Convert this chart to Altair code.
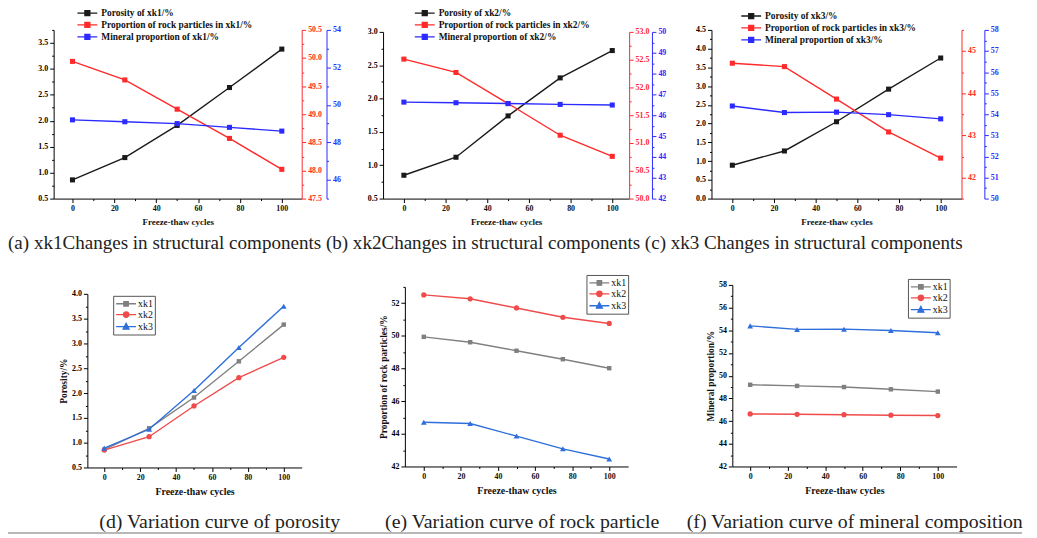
import altair as alt
import pandas as pd

# ---------------- data ----------------
cycles = [0, 25, 50, 75, 100]
samples = ["xk1", "xk2", "xk3"]

porosity_xk1 = [0.86, 1.29, 1.91, 2.64, 3.38]
porosity_xk2 = [0.85, 1.12, 1.74, 2.31, 2.72]
porosity_xk3 = [0.89, 1.27, 2.05, 2.92, 3.75]

rock_xk1 = [49.94, 49.61, 49.09, 48.57, 48.02]
rock_xk2 = [52.51, 52.27, 51.71, 51.14, 50.76]
rock_xk3 = [44.71, 44.63, 43.86, 43.08, 42.46]

mineral_xk1 = [49.20, 49.10, 49.00, 48.80, 48.60]
mineral_xk2 = [46.63, 46.60, 46.56, 46.52, 46.49]
mineral_xk3 = [54.39, 54.08, 54.10, 53.98, 53.78]

top_captions = "(a) xk1Changes in structural components (b) xk2Changes in structural components (c) xk3 Changes in structural components"
bottom_captions = ["(d) Variation curve of porosity",
                   "(e) Variation curve of rock particle",
                   "(f) Variation curve of mineral composition"]
bottom_titles = ["Porosity/%", "Proportion of rock particles/%", "Mineral proportion/%"]
x_title = "Freeze-thaw cycles"

values = {
    ("xk1", "porosity"): porosity_xk1, ("xk2", "porosity"): porosity_xk2, ("xk3", "porosity"): porosity_xk3,
    ("xk1", "rock"): rock_xk1, ("xk2", "rock"): rock_xk2, ("xk3", "rock"): rock_xk3,
    ("xk1", "mineral"): mineral_xk1, ("xk2", "mineral"): mineral_xk2, ("xk3", "mineral"): mineral_xk3,
}
rows = []
for (s, m), vals in values.items():
    for c, v in zip(cycles, vals):
        rows.append({"sample": s, "measure": m, "cycles": c, "value": v})
df = pd.DataFrame(rows)
base = alt.Chart(df)

# ---------------- layout (page pixel coords) ----------------
M = 8
W, H = 1037 - M, 538 - M
FONT = "Liberation Serif"


def px(v):
    return v - M


BLACK, RED, BLUE = "#1a1a1a", "#ff2a2a", "#2b2bff"
G_GRAY, G_RED, G_BLUE = "#808080", "#ef4b4b", "#2f6fdc"


def frange(a, b, step):
    out, v = [], a
    while v <= b + 1e-9:
        out.append(round(v, 4))
        v += step
    return out


def xscale(p):
    return alt.Scale(domain=p["xdom"], range=[px(p["x0"]), px(p["x1"])], nice=False, zero=False)


def yscale(dom, p):
    return alt.Scale(domain=dom, range=[px(p["yb"]), px(p["yt"])], nice=False, zero=False)


def x_axis(p, minor=False, tsize=9):
    off = px(p["yb"]) - H
    if minor:
        return alt.Axis(orient="bottom", offset=off, values=[10, 30, 50, 70, 90], labels=False,
                        domain=False, tickSize=2, title=None, grid=False)
    return alt.Axis(orient="bottom", offset=off, values=[0, 20, 40, 60, 80, 100], format="d",
                    title=x_title, titleFontSize=tsize, titlePadding=5, tickSize=4, grid=False)


def y_axis(orient, xpos, vals, fmt, color="#000", minor=False, title=None):
    off = -px(xpos) if orient == "left" else px(xpos) - W
    if minor:
        return alt.Axis(orient=orient, offset=off, values=vals, labels=False, domain=False,
                        tickSize=2, tickColor=color, title=None, grid=False)
    kw = dict(orient=orient, offset=off, values=vals, format=fmt, tickSize=4, grid=False,
              domainColor=color, tickColor=color, labelColor=color)
    if title:
        kw.update(title=title, titleFontSize=9.5, titlePadding=3)
    else:
        kw.update(title=None)
    return alt.Axis(**kw)


def line_layer(sample, measure, color, shape, msize, xs, ys, xaxis, yaxis, width=1.4):
    return base.transform_filter(
        f"datum.sample == '{sample}' && datum.measure == '{measure}'"
    ).mark_line(color=color, strokeWidth=width,
                point=alt.OverlayMarkDef(shape=shape, filled=True, color=color, size=msize, opacity=1)
                ).encode(x=alt.X("cycles:Q", scale=xs, axis=xaxis),
                         y=alt.Y("value:Q", scale=ys, axis=yaxis))


def axis_layer(xs, ys, yaxis):
    return base.transform_filter("false").mark_line().encode(
        x=alt.X("cycles:Q", scale=xs, axis=None),
        y=alt.Y("value:Q", scale=ys, axis=yaxis))


def legend_layer(labels, colors, shapes, lx, ly, font_size, bold, row_pad, label_off, boxed):
    dfl = pd.DataFrame({"lab": labels})
    csc = alt.Scale(domain=labels, range=colors)
    ssc = alt.Scale(domain=labels, range=shapes)
    kw = dict(orient="none", legendX=px(lx), legendY=px(ly), title=None,
              labelFont=FONT, labelFontSize=font_size,
              labelFontWeight="bold" if bold else "normal", labelColor="#111",
              symbolSize=100, labelOffset=label_off, rowPadding=row_pad, symbolStrokeWidth=1.3)
    if boxed:
        kw.update(strokeColor="#555", padding=2)
    else:
        kw.update(padding=0)
    leg = alt.Legend(**kw)
    return alt.Chart(dfl).transform_filter("false").mark_point(filled=True, opacity=1, strokeWidth=1.3).encode(
        color=alt.Color("lab:N", scale=csc, legend=leg),
        stroke=alt.Stroke("lab:N", scale=csc, legend=leg),
        shape=alt.Shape("lab:N", scale=ssc, legend=leg),
    )


# symbol paths: unit = 5 px (symbolSize 100); line runs from -1 to 3 units, marker at 1
SQ_TOP = "M-1,0L3,0M0.5,-0.5L1.5,-0.5L1.5,0.5L0.5,0.5Z"
SQ_LINE = "M-1,0L3,0M0.55,-0.45L1.45,-0.45L1.45,0.45L0.55,0.45Z"
CI_LINE = "M-1,0L3,0M1.55,0A0.55,0.55 0 1,1 0.45,0A0.55,0.55 0 1,1 1.55,0Z"
TR_LINE = "M-1,0L3,0M1,-0.65L1.6,0.5L0.4,0.5Z"

# top panels geometry
top_panels = [
    dict(sample="xk1", x0=54, x1=304, xdom=[-9, 109.5], yt=28, yb=198,
         left=[0.5, 3.75], lmaj=frange(0.5, 3.5, 0.5), lmin=frange(0.75, 3.75, 0.5), lfmt=".1f",
         red=[47.5, 50.5], rmaj=frange(47.5, 50.5, 0.5), rmin=frange(47.75, 50.25, 0.5), rfmt=".1f", rx=304,
         blue=[45, 54], bmaj=frange(46, 54, 2), bmin=frange(45, 53, 2), bx=329,
         lgx=77, lgy=5),
    dict(sample="xk2", x0=386, x1=634, xdom=[-10, 108.1], yt=30, yb=198,
         left=[0.5, 3.0], lmaj=frange(0.5, 3.0, 0.5), lmin=frange(0.75, 2.75, 0.5), lfmt=".1f",
         red=[50, 53], rmaj=frange(50, 53, 0.5), rmin=frange(50.25, 52.75, 0.5), rfmt=".1f", rx=634,
         blue=[42, 50], bmaj=frange(42, 50, 1), bmin=frange(42.5, 49.5, 1), bx=657,
         lgx=417, lgy=5),
    dict(sample="xk3", x0=717, x1=969, xdom=[-10, 110], yt=28, yb=198,
         left=[0, 4.5], lmaj=frange(0, 4.5, 0.5), lmin=frange(0.25, 4.25, 0.5), lfmt=".1f",
         red=[41.5, 45.5], rmaj=[42, 43, 44, 45], rmin=frange(41.5, 45.5, 1), rfmt="d", rx=969,
         blue=[50, 58], bmaj=frange(50, 58, 1), bmin=frange(50.5, 57.5, 1), bx=992,
         lgx=746, lgy=8),
]

layers = []
for p in top_panels:
    s = p["sample"]
    layers.append(line_layer(s, "porosity", BLACK, "square", 26, xscale(p), yscale(p["left"], p), x_axis(p),
                             y_axis("left", p["x0"], p["lmaj"], p["lfmt"])))
    layers.append(line_layer(s, "rock", RED, "square", 26, xscale(p), yscale(p["red"], p), x_axis(p, minor=True),
                             y_axis("right", p["rx"], p["rmaj"], p["rfmt"], color=RED)))
    layers.append(line_layer(s, "mineral", BLUE, "square", 26, xscale(p), yscale(p["blue"], p), None,
                             y_axis("right", p["bx"], p["bmaj"], "d", color=BLUE)))
    layers.append(axis_layer(xscale(p), yscale(p["left"], p), y_axis("left", p["x0"], p["lmin"], "", minor=True)))
    layers.append(axis_layer(xscale(p), yscale(p["red"], p), y_axis("right", p["rx"], p["rmin"], "", color=RED, minor=True)))
    layers.append(axis_layer(xscale(p), yscale(p["blue"], p), y_axis("right", p["bx"], p["bmin"], "", color=BLUE, minor=True)))
    labels = [f"Porosity of {s}/%", f"Proportion of rock particles  in {s}/%", f"Mineral proportion  of {s}/%"]
    layers.append(legend_layer(labels, [BLACK, RED, BLUE], [SQ_TOP] * 3, p["lgx"], p["lgy"],
                               9.5, True, -0.5, 13, False))

# bottom panels geometry
bottom_panels = [
    dict(measure="porosity", x0=88, x1=304, xdom=[-9.4, 110], yt=294, yb=469, ydom=[0.5, 4.0],
         ymaj=frange(0.5, 4.0, 0.5), ymin=frange(0.75, 3.75, 0.5), yfmt=".1f", lgx=114, lgy=296),
    dict(measure="rock", x0=408, x1=633, xdom=[-10.2, 110.2], yt=287, yb=468, ydom=[42, 53],
         ymaj=frange(42, 52, 2), ymin=frange(43, 53, 2), yfmt="d", lgx=591, lgy=275),
    dict(measure="mineral", x0=738, x1=964, xdom=[-9.5, 110], yt=285, yb=468, ydom=[42, 58],
         ymaj=frange(42, 58, 2), ymin=frange(43, 57, 2), yfmt="d", lgx=915, lgy=279),
]

for p, ytitle in zip(bottom_panels, bottom_titles):
    m = p["measure"]
    layers.append(line_layer("xk1", m, G_GRAY, "square", 20, xscale(p), yscale(p["ydom"], p),
                             x_axis(p, tsize=10), y_axis("left", p["x0"], p["ymaj"], p["yfmt"], title=ytitle)))
    layers.append(line_layer("xk2", m, G_RED, "circle", 28, xscale(p), yscale(p["ydom"], p),
                             x_axis(p, minor=True), None))
    layers.append(line_layer("xk3", m, G_BLUE, "triangle-up", 34, xscale(p), yscale(p["ydom"], p),
                             None, y_axis("left", p["x0"], p["ymin"], "", minor=True)))
    layers.append(legend_layer(samples, [G_GRAY, G_RED, G_BLUE], [SQ_LINE, CI_LINE, TR_LINE],
                               p["lgx"], p["lgy"], 10, False, -1.5, 11, True))

# captions
layers.append(alt.Chart(pd.DataFrame({"t": [top_captions]})).mark_text(
    font=FONT, fontSize=19.2, align="left", baseline="middle", color="#222").encode(
    text="t:N", x=alt.value(px(8)), y=alt.value(px(243))))
for cap, cx in zip(bottom_captions, [100, 388, 692]):
    layers.append(alt.Chart(pd.DataFrame({"t": [cap]})).mark_text(
        font=FONT, fontSize=20, align="left", baseline="middle", color="#222").encode(
        text="t:N", x=alt.value(px(cx)), y=alt.value(px(524))))

layers.append(alt.Chart(pd.DataFrame({"a": [0]})).mark_rule(color="#a0a0a0", strokeWidth=1.5).encode(
    x=alt.value(px(0)), x2=alt.value(px(1030)), y=alt.value(px(535))))

chart = alt.layer(*layers).resolve_scale(
    x="independent", y="independent", color="independent", stroke="independent", shape="independent"
).properties(
    width=W, height=H, padding=0, autosize=alt.AutoSizeParams(type="none")
).configure(background="white").configure_view(stroke=None).configure_axis(
    labelFont=FONT, labelFontWeight="bold", labelFontSize=8, labelColor="#111",
    titleFont=FONT, titleFontWeight="bold", titleColor="#111",
    domainColor="#000", tickColor="#000", domainWidth=1, tickWidth=1, labelPadding=2,
    labelOverlap=False, labelFlush=False
)

chart.save("out.html", embed_options={"renderer": "svg", "actions": False})
